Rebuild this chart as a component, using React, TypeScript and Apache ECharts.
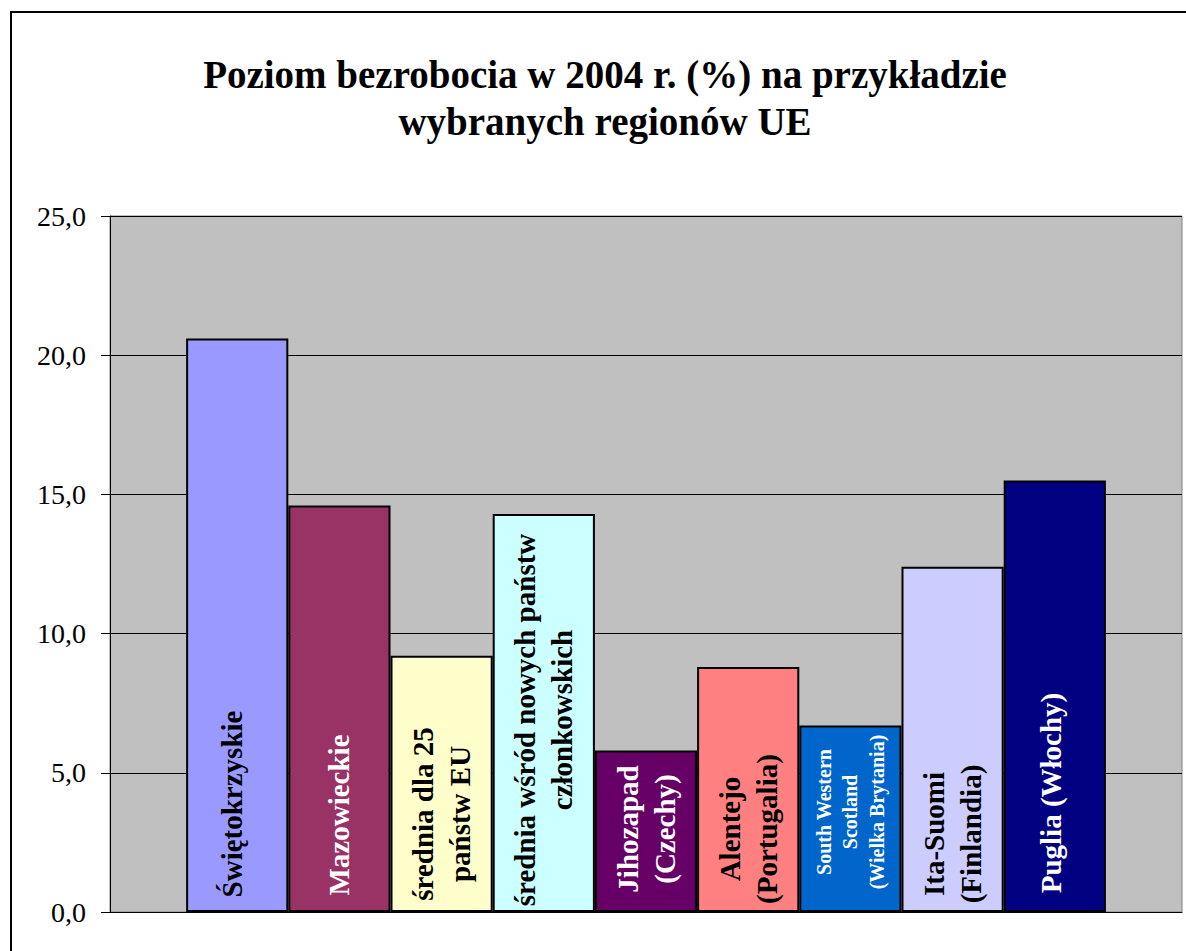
import React, { useEffect, useRef } from "react";
import * as echarts from "echarts";

const TITLE = "Poziom bezrobocia w 2004 r. (%) na przykładzie\nwybranych regionów UE";

const regions = [
  "Świętokrzyskie",
  "Mazowieckie",
  "średnia dla 25\npaństw EU",
  "średnia wśród nowych państw\nczłonkowskich",
  "Jihozapad\n(Czechy)",
  "Alentejo\n(Portugalia)",
  "South Western\nScotland\n(Wielka Brytania)",
  "Ita-Suomi\n(Finlandia)",
  "Puglia (Włochy)",
];

const unemployment = [20.6, 14.6, 9.2, 14.3, 5.8, 8.8, 6.7, 12.4, 15.5];

const yTicks = { min: 0, max: 25, interval: 5 };

// styles
const barColors = ["#9999FF", "#993366", "#FFFFCC", "#CCFFFF", "#660066", "#FF8080", "#0066CC", "#CCCCFF", "#000080"];
const labelColors = ["#000", "#fff", "#000", "#000", "#fff", "#000", "#fff", "#000", "#fff"];
const labelDistances = [108, 97, 98, 192, 83, 83, 100, 78, 119];
const labelSizes = [29, 29, 29, 29, 29, 29, 20, 29, 29];
const labelLineHeights = [37, 37, 37, 37, 37, 37, 26.5, 37, 37];
const labelShift = [-5, 0, 0, 0, 0, 0, 0, 0, -4];

export default function App() {
  const ref = useRef<HTMLDivElement>(null);

  useEffect(() => {
    if (!ref.current) return;
    const chart = echarts.init(ref.current, null, { renderer: "svg" });
    const serif = "'Liberation Serif', 'Times New Roman', serif";

    const series = regions.map((name, i) => ({
      type: "bar",
      name,
      data: [unemployment[i]],
      barGap: "0%",
      barCategoryGap: "14.2%",
      itemStyle: { color: barColors[i], borderColor: "#000", borderWidth: 2 },
      label: {
        show: true,
        position: "insideBottom",
        distance: labelDistances[i],
        rotate: 90,
        align: "center",
        verticalAlign: "middle",
        offset: [0, labelShift[i]],
        formatter: () => name,
        fontFamily: serif,
        fontWeight: "bold",
        fontSize: labelSizes[i],
        lineHeight: labelLineHeights[i],
        color: labelColors[i],
      },
      emphasis: { disabled: true },
    }));

    chart.setOption({
      animation: false,
      backgroundColor: "#fff",
      title: {
        text: TITLE,
        left: "center",
        top: 51,
        padding: 0,
        textStyle: {
          fontFamily: serif,
          fontWeight: "bold",
          fontSize: 39,
          lineHeight: 47,
          color: "#000",
        },
      },
      graphic: [
        {
          type: "rect",
          z: -10,
          silent: true,
          shape: { x: 11, y: 12, width: 1400, height: 1200 },
          style: { fill: "none", stroke: "#000", lineWidth: 2 },
        },
      ],
      grid: {
        left: 110,
        right: 28,
        top: 216,
        bottom: 39,
        show: true,
        backgroundColor: "#C0C0C0",
        borderColor: "#808080",
        borderWidth: 1,
      },
      xAxis: {
        type: "category",
        data: [""],
        axisLine: { show: true, lineStyle: { color: "#000", width: 1 } },
        axisTick: { show: false },
        axisLabel: { show: false },
        splitLine: { show: false },
      },
      yAxis: {
        type: "value",
        min: yTicks.min,
        max: yTicks.max,
        interval: yTicks.interval,
        axisLine: { show: true, lineStyle: { color: "#000", width: 1 } },
        axisTick: { show: true, length: 9, lineStyle: { color: "#000" } },
        axisLabel: {
          margin: 24,
          fontFamily: serif,
          fontSize: 28,
          color: "#000",
          formatter: (v: number) => v.toFixed(1).replace(".", ","),
        },
        splitLine: { show: true, lineStyle: { color: "#000", width: 1 } },
      },
      series,
    });

    return () => chart.dispose();
  }, []);

  return (
    <div
      ref={ref}
      style={{ position: "fixed", left: 0, top: 0, width: 1210, height: 951 }}
    />
  );
}
